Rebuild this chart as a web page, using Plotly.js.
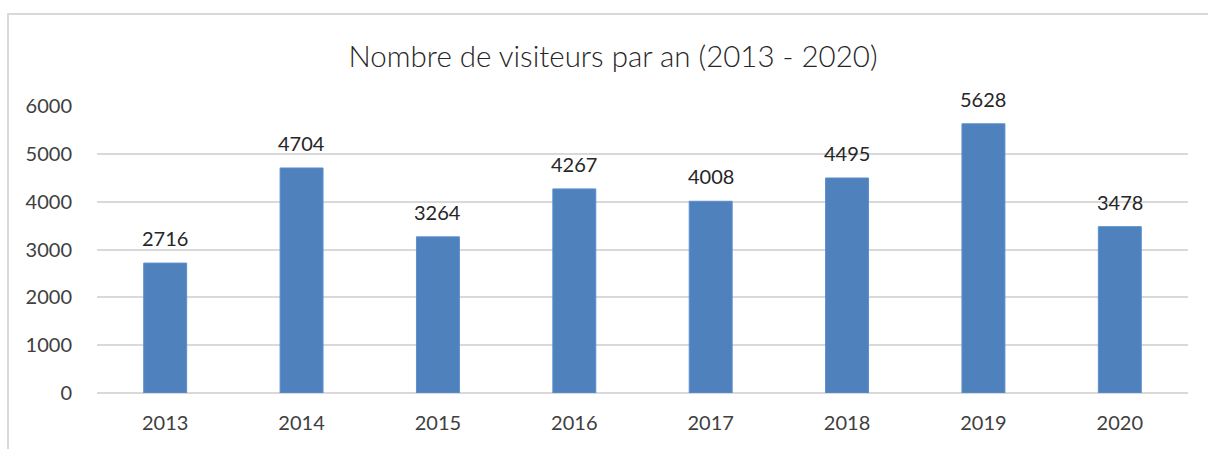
<!DOCTYPE html>
<html>
<head>
<meta charset="utf-8">
<script src="https://cdn.plot.ly/plotly-3.0.1.min.js"></script>
<style>
  html, body { margin: 0; padding: 0; background: #fff; }
  #wrap { position: relative; width: 1208px; height: 449px; overflow: hidden; }
  #chart { position: absolute; left: 0; top: 0; width: 1208px; height: 449px; }
  #frame { position: absolute; left: 7px; top: 13px; width: 1300px; height: 600px;
           border: 2px solid #D9D9D9; box-sizing: border-box; pointer-events: none; }
</style>
</head>
<body>
<div id="wrap">
  <div id="chart"></div>
  <div id="frame"></div>
</div>
<script>
const years = ['2013', '2014', '2015', '2016', '2017', '2018', '2019', '2020'];
const visitors = [2716, 4704, 3264, 4267, 4008, 4495, 5628, 3478];
const yTicks = [0, 1000, 2000, 3000, 4000, 5000, 6000];
const chartTitle = 'Nombre de visiteurs par an (2013 - 2020)';

const fontFamily = 'Lato, "Open Sans", sans-serif';

const trace = {
  type: 'bar',
  x: years,
  y: visitors,
  text: visitors.map(String),
  textposition: 'none',
  marker: { color: '#4F81BD', line: { color: '#5B8FD0', width: 1 } },
  hoverinfo: 'x+y'
};

const annotations = years.map((yr, i) => ({
  x: i, y: visitors[i], xref: 'x', yref: 'y',
  text: String(visitors[i]), showarrow: false,
  yanchor: 'bottom', yshift: 11,
  font: { family: fontFamily, size: 20, color: '#262626' }
}));

const layout = {
  width: 1208, height: 449,
  margin: { l: 97, r: 20, t: 106, b: 56 },
  paper_bgcolor: '#ffffff',
  plot_bgcolor: '#ffffff',
  showlegend: false,
  bargap: 0.685,
  title: {
    text: chartTitle,
    font: { family: fontFamily, size: 29.5, weight: 300, color: '#262626' },
    x: 0.5075, xanchor: 'center', xref: 'container',
    y: 0.873, yref: 'container', yanchor: 'middle'
  },
  xaxis: {
    type: 'category',
    categoryorder: 'array',
    categoryarray: years,
    range: [-0.5, years.length - 0.5],
    autorange: false,
    showgrid: false, zeroline: false, showline: false,
    ticks: 'outside', ticklen: 12, tickcolor: 'rgba(0,0,0,0)',
    tickfont: { family: fontFamily, size: 20, color: '#404040' }
  },
  yaxis: {
    range: [0, 6000],
    autorange: false,
    tickvals: yTicks,
    ticktext: yTicks.map(String),
    showgrid: true, gridcolor: '#D9D9D9', gridwidth: 2,
    zeroline: true, zerolinecolor: '#D9D9D9', zerolinewidth: 2,
    showline: false, ticks: 'outside', ticklen: 20, tickcolor: 'rgba(0,0,0,0)',
    tickfont: { family: fontFamily, size: 20, color: '#404040' }
  },
  annotations: annotations
};

Plotly.newPlot('chart', [trace], layout, { displayModeBar: false, staticPlot: true });
</script>
</body>
</html>
